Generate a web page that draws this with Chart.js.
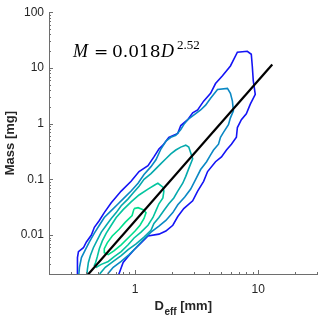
<!DOCTYPE html>
<html>
<head>
<meta charset="utf-8">
<script src="https://cdn.jsdelivr.net/npm/chart.js@4/dist/chart.umd.min.js"></script>
<style>
html,body{margin:0;padding:0;background:#fff;}
#wrap{width:320px;height:321px;}
</style>
</head>
<body>
<div id="wrap"><canvas id="c" width="320" height="321"></canvas></div>
<script>
// ---- axis ranges & tick labels ----
const xMin = 0.2, xMax = 30;
const yMin = 0.002, yMax = 100;
const xTickLabels = [1, 10];
const yTickLabels = [0.01, 0.1, 1, 10, 100];

// ---- fitted power law M = 0.018 D^2.52 (end points) ----
const fitD = [0.41, 13];
const fitM = [0.0019, 11.5];

// ---- density contours (outer -> inner), D [mm] and M [mg] ----
const contour1D = [0.3405,0.3405,0.3405,0.3469,0.3807,0.4025,0.4418,0.4670,0.5125,0.5623,0.6405,0.7711,0.9283,1.077,1.273,1.423,1.562,1.682,1.880,2.222,2.350,2.676,2.936,3.221,3.602,4.102,4.500,5.124,5.945,6.771,8.152,8.781,8.946,9.114,9.458,8.621,8.002,7.295,6.771,6.646,6.057,5.520,5.030,4.500,3.879,3.602,3.221,2.936,2.485,2.222,2.025,1.778,1.562,1.273,1.118,0.9816,0.8780,0.8002,0.7430,0.7158];
const contour1M = [0.00162,0.00286,0.00395,0.00503,0.00592,0.00753,0.0100,0.0138,0.0183,0.0253,0.0379,0.0616,0.0922,0.138,0.176,0.253,0.350,0.411,0.568,0.668,0.923,1.175,1.56,1.76,2.53,3.50,5.24,7.24,10.84,19.1,19.9,17.6,10.84,5.92,3.36,2.24,1.50,1.175,0.851,0.568,0.428,0.336,0.253,0.207,0.138,0.0922,0.0616,0.0411,0.0298,0.0215,0.0150,0.0118,0.0104,0.0096,0.00724,0.00546,0.00411,0.00323,0.00207,0.00162];

const contour2D = [0.3469,0.3535,0.3668,0.3952,0.4256,0.4670,0.5125,0.5623,0.6405,0.7294,0.8152,0.9283,1.057,1.182,1.346,1.477,1.621,1.778,1.951,2.141,2.350,2.485,2.676,2.936,3.406,3.738,4.102,4.671,
                   5.623,5.945,6.170,6.286,5.945,5.729,5.220,4.937,4.758,4.337,4.102,3.807,3.406,3.104,2.829,2.531,2.222,2.025,1.778,1.562,1.346,1.160,1.019,0.8944,0.7711,0.6647,0.6058,0.5836];
const contour2M = [0.00162,0.00264,0.00395,0.00546,0.00753,0.0108,0.0150,0.0207,0.0275,0.0364,0.0464,0.0616,0.0851,0.122,0.169,0.224,0.350,0.483,0.568,0.616,0.785,0.960,1.175,1.38,1.76,2.15,2.86,4.11,
                   4.28,3.50,2.53,1.69,1.27,0.960,0.695,0.568,0.428,0.336,0.274,0.207,0.150,0.100,0.0668,0.0483,0.0350,0.0253,0.0183,0.0144,0.0113,0.00817,0.00592,0.00446,0.00336,0.00264,0.00207,0.00162];

const contour3D = [0.4025,0.4101,0.4178,0.4337,0.4585,0.4938,0.5318,0.5836,0.6405,0.7028,0.7711,0.8780,0.9636,1.077,1.182,1.346,1.477,1.621,1.778,1.951,2.141,2.350,2.579,
                   2.727,2.936,2.727,2.579,2.438,2.222,2.063,1.880,1.713,1.562,1.423,1.346,1.182,1.019,0.8780,0.7711,0.6647,0.5729,0.5221,0.5030];
const contour3M = [0.00162,0.00243,0.00323,0.00428,0.00592,0.00817,0.0113,0.0150,0.0199,0.0253,0.0336,0.0446,0.0568,0.0754,0.100,0.127,0.156,0.191,0.234,0.286,0.336,0.379,0.411,
                   0.379,0.234,0.156,0.113,0.0851,0.0616,0.0464,0.0364,0.0275,0.0207,0.0162,0.0122,0.00922,0.00695,0.00546,0.00428,0.00336,0.00264,0.00207,0.00162];

const contour4D = [1.477,1.532,1.682,1.713,1.682,1.562,1.477,1.397,1.273,1.118,0.9816,0.8780,0.7711,0.6772,0.6058,0.5318,0.4847,0.4670,0.4757,0.4938,0.5125,0.5420,0.5836,0.6405,0.7028,0.8002,0.9283,1.077,1.273,1.477];
const contour4M = [0.0817,0.0851,0.0724,0.0616,0.0464,0.0364,0.0275,0.0207,0.0150,0.0113,0.00886,0.00668,0.00503,0.00411,0.00336,0.00298,0.00264,0.00286,0.00310,0.00411,0.00568,0.00785,0.0108,0.0150,0.0207,0.0286,0.0395,0.0524,0.0668,0.0817];

const contour5D = [0.9816,1.057,1.160,1.227,1.182,1.097,1.000,0.8944,0.7711,0.6772,0.6058,0.5623,0.5623,0.5943,0.6525,0.7430,0.8305,0.9458,0.9816];
const contour5M = [0.0298,0.0310,0.0286,0.0253,0.0199,0.0150,0.0118,0.00922,0.00668,0.00524,0.00446,0.00483,0.00568,0.00724,0.00960,0.0127,0.0169,0.0224,0.0298];

const contourColors = ['#1414f5', '#0a88c4', '#05a9ad', '#03c59f', '#00df8e'];

const toPts = (xs, ys) => xs.map((v, i) => ({x: v, y: ys[i]}));

const contours = [
  [contour1D, contour1M], [contour2D, contour2M], [contour3D, contour3M],
  [contour4D, contour4M], [contour5D, contour5M]
];

const datasets = contours.map((c, i) => ({
  data: toPts(c[0], c[1]),
  borderColor: contourColors[i],
  borderWidth: 1.6,
  showLine: true,
  pointRadius: 0,
  tension: 0,
  fill: false,
  clip: 0,
  order: 6 - i
}));
datasets.push({
  data: toPts(fitD, fitM),
  borderColor: '#000000',
  borderWidth: 2.2,
  showLine: true,
  pointRadius: 0,
  fill: false,
  clip: 0,
  order: 0
});

const tickFont = {family: '"Liberation Sans", Arial, Helvetica, sans-serif', size: 12};
const axisGray = '#6e6e6e';

const decor = {
  id: 'decor',
  afterDraw(chart) {
    const {ctx, chartArea: a, scales: {x, y}} = chart;
    ctx.save();
    // inward tick marks (major + minor)
    ctx.strokeStyle = axisGray;
    ctx.lineWidth = 1;
    for (let e = -1; e <= 1; e++) {
      for (let k = 1; k <= 9; k++) {
        const v = k * Math.pow(10, e);
        if (v < xMin * 0.999 || v > xMax * 1.001) continue;
        const px = Math.round(x.getPixelForValue(v)) + 0.5;
        const len = k === 1 ? 4 : 2;
        ctx.beginPath();
        ctx.moveTo(px, a.bottom);
        ctx.lineTo(px, a.bottom - len);
        ctx.stroke();
      }
    }
    for (let e = -3; e <= 2; e++) {
      for (let k = 1; k <= 9; k++) {
        const v = k * Math.pow(10, e);
        if (v < yMin * 0.999 || v > yMax * 1.001) continue;
        const py = Math.round(y.getPixelForValue(v)) + 0.5;
        const len = k === 1 ? 4 : 2;
        ctx.beginPath();
        ctx.moveTo(a.left, py);
        ctx.lineTo(a.left + len, py);
        ctx.stroke();
      }
    }

    // axis titles
    ctx.fillStyle = '#262626';
    ctx.textBaseline = 'alphabetic';
    const big = 'bold 13px "Liberation Sans", Arial, sans-serif';
    const sub = 'bold 10px "Liberation Sans", Arial, sans-serif';
    ctx.font = big;
    const wD = ctx.measureText('D').width;
    const wR = ctx.measureText(' [mm]').width;
    ctx.font = sub;
    const wS = ctx.measureText('eff').width;
    const cx = (a.left + a.right) / 2;
    let sx = cx - (wD + wS + wR) / 2;
    const base = 310;
    ctx.textAlign = 'left';
    ctx.font = big; ctx.fillText('D', sx, base); sx += wD + 0.5;
    ctx.font = sub; ctx.fillText('eff', sx, base + 5); sx += wS;
    ctx.font = big; ctx.fillText(' [mm]', sx, base);

    ctx.save();
    ctx.translate(13.5, (a.top + a.bottom) / 2);
    ctx.rotate(-Math.PI / 2);
    ctx.textAlign = 'center';
    ctx.font = big;
    ctx.fillText('Mass [mg]', 0, 0);
    ctx.restore();

    // equation
    ctx.fillStyle = '#000000';
    ctx.textAlign = 'left';
    const eb = 57;
    ctx.font = 'italic 18px "Liberation Serif", "DejaVu Serif", serif';
    ctx.fillText('M', 73, eb);
    ctx.font = '17px "DejaVu Serif", serif';
    ctx.fillText('=', 94, eb);
    ctx.fillText('0.018', 112, eb);
    ctx.font = 'italic 18px "Liberation Serif", "DejaVu Serif", serif';
    ctx.fillText('D', 161, eb);
    ctx.font = '13px "Liberation Serif", serif';
    ctx.fillText('2.52', 177, eb - 8);
    ctx.restore();
  }
};

new Chart(document.getElementById('c'), {
  type: 'scatter',
  data: {datasets},
  options: {
    responsive: false,
    devicePixelRatio: 1,
    animation: false,
    events: [],
    layout: {padding: {top: 6, right: 3, left: 0, bottom: 0}},
    plugins: {legend: {display: false}, tooltip: {enabled: false}},
    scales: {
      x: {
        type: 'logarithmic',
        position: 'bottom',
        min: xMin, max: xMax,
        afterBuildTicks: s => { s.ticks = xTickLabels.map(v => ({value: v})); },
        afterFit: s => { s.height = 47; },
        grid: {display: false, drawTicks: false},
        border: {display: true, color: axisGray, width: 1},
        ticks: {
          autoSkip: false, maxRotation: 0, padding: 8,
          color: '#262626', font: tickFont,
          callback: v => String(v)
        }
      },
      y: {
        type: 'logarithmic',
        position: 'left',
        min: yMin, max: yMax,
        afterBuildTicks: s => { s.ticks = yTickLabels.map(v => ({value: v})); },
        afterFit: s => { s.width = 49; },
        grid: {display: false, drawTicks: false},
        border: {display: true, color: axisGray, width: 1},
        ticks: {
          autoSkip: false, padding: 5,
          color: '#262626', font: tickFont,
          callback: v => String(v)
        }
      }
    }
  },
  plugins: [decor]
});
</script>
</body>
</html>
